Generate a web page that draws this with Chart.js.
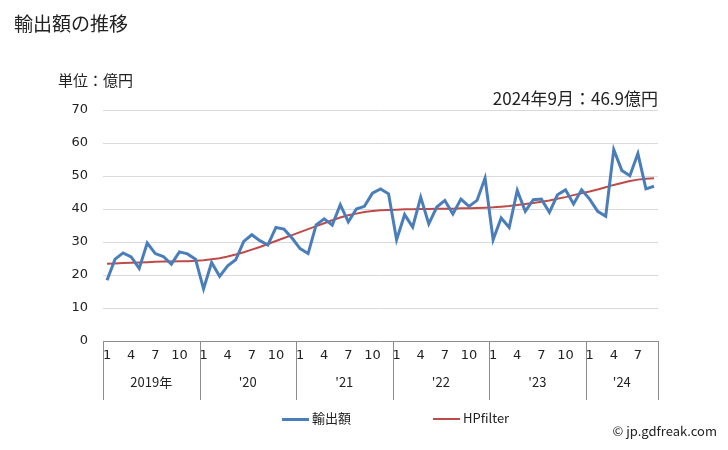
<!DOCTYPE html>
<html><head><meta charset="utf-8">
<script src="https://cdn.jsdelivr.net/npm/chart.js@4"></script>
<style>
html,body{margin:0;padding:0;background:#fff;}
#wrap{position:relative;width:728px;height:450px;font-family:"Noto Sans CJK JP","DejaVu Sans",sans-serif;color:#222;}
canvas{position:absolute;left:0;top:0;}
.t{position:absolute;white-space:nowrap;}
</style></head><body>
<div id="wrap">
<canvas id="c" width="728" height="450"></canvas>
<div class="t" style="left:14px;top:9px;font-size:19px;">輸出額の推移</div>
<div class="t" style="left:58px;top:69px;font-size:15px;">単位：億円</div>
<div class="t" style="right:70px;top:85px;font-size:17px;">2024年9月：46.9億円</div>
<div class="t" style="left:282px;top:408px;font-size:13px;"><span style="display:inline-block;width:27px;height:3px;background:#4a7ebb;vertical-align:middle;margin-right:3px;"></span>輸出額</div>
<div class="t" style="left:433px;top:408px;font-size:13px;"><span style="display:inline-block;width:27px;height:2px;background:#be4b48;vertical-align:middle;margin-right:3px;"></span>HPfilter</div>
<div class="t" style="right:11px;top:421px;font-size:13px;">© jp.gdfreak.com</div>
</div>
<script>
const months = [];
const years = [2019,2020,2021,2022,2023,2024];
const yearLabels = ["2019年","'20","'21","'22","'23","'24"];
const monthTickLabels = ["1","4","7","10"];
for (const y of years) { for (let m = 1; m <= 12; m++) { if (y === 2024 && m > 9) break; months.push(y + "-" + m); } }

const exportValues = [
  18.4, 24.8, 26.7, 25.5, 22.0, 29.7, 26.5, 25.6, 23.3, 27.0, 26.4, 24.8,
  15.8, 23.8, 19.6, 22.8, 24.6, 30.2, 32.2, 30.4, 29.1, 34.4, 33.9, 31.2,
  28.0, 26.5, 35.2, 37.0, 35.1, 41.3, 36.1, 40.0, 40.8, 44.8, 46.1, 44.6,
  30.7, 38.3, 34.5, 43.6, 35.5, 40.6, 42.6, 38.5, 43.0, 40.8, 42.6, 49.4,
  30.7, 37.3, 34.4, 45.6, 39.3, 42.8, 43.0, 39.0, 44.3, 45.8, 41.5, 45.8,
  43.0, 39.3, 37.8, 58.0, 51.7, 50.1, 56.8, 46.1, 46.9
];
const hpFilter = [
  23.4, 23.5, 23.6, 23.7, 23.8, 23.9, 24.0, 24.1, 24.1, 24.2, 24.2, 24.3,
  24.5, 24.8, 25.1, 25.6, 26.2, 26.9, 27.7, 28.5, 29.4, 30.3, 31.2, 32.1,
  33.0, 33.9, 34.8, 35.7, 36.6, 37.4, 38.1, 38.6, 39.1, 39.4, 39.6, 39.7,
  39.8, 39.9, 39.9, 40.0, 40.0, 40.1, 40.1, 40.1, 40.2, 40.2, 40.3, 40.4,
  40.5, 40.7, 40.9, 41.2, 41.5, 41.8, 42.2, 42.6, 43.1, 43.6, 44.2, 44.8,
  45.3, 45.9, 46.6, 47.3, 47.9, 48.5, 48.9, 49.2, 49.3
];
const yTicks = [0,10,20,30,40,50,60,70];

const boxPlugin = {
  id: 'box',
  afterDraw(chart) {
    const ctx = chart.ctx, x = chart.scales.x, area = chart.chartArea;
    const w = (area.right - area.left) / months.length;
    ctx.save();
    ctx.strokeStyle = '#8c8c8c';
    ctx.lineWidth = 1;
    ctx.beginPath();
    ctx.moveTo(area.left, Math.round(area.bottom) + 0.5);
    ctx.lineTo(area.right, Math.round(area.bottom) + 0.5);
    const bounds = [];
    let idx = 0;
    years.forEach((y) => {
      bounds.push(x.getPixelForValue(idx) - w / 2);
      idx += (y === 2024 ? 9 : 12);
    });
    bounds.push(area.right);
    bounds.forEach(b => {
      const px = Math.round(b) + 0.5;
      ctx.moveTo(px, area.bottom);
      ctx.lineTo(px, 400);
    });
    ctx.stroke();
    ctx.fillStyle = '#222';
    ctx.font = '13px "Noto Sans CJK JP", "DejaVu Sans", sans-serif';
    ctx.textAlign = 'center';
    ctx.textBaseline = 'middle';
    yearLabels.forEach((lab, i) => {
      ctx.fillText(lab, (bounds[i] + bounds[i + 1]) / 2, 382);
    });
    ctx.restore();
  }
};

new Chart(document.getElementById('c'), {
  type: 'line',
  data: {
    labels: months,
    datasets: [
      { label: '輸出額', data: exportValues, borderColor: '#4a7ebb', borderWidth: 3, pointRadius: 0, tension: 0 },
      { label: 'HPfilter', data: hpFilter, borderColor: '#be4b48', borderWidth: 2, pointRadius: 0, tension: 0 }
    ]
  },
  options: {
    responsive: false,
    animation: false,
    events: [],
    layout: { padding: { left: 0, right: 70, top: 110, bottom: 0 } },
    plugins: { legend: { display: false }, tooltip: { enabled: false } },
    scales: {
      x: {
        type: 'category',
        offset: true,
        grid: { display: false, drawTicks: false },
        border: { display: false },
        afterFit(s) { s.height = 109; },
        ticks: {
          autoSkip: false, maxRotation: 0, padding: 7,
          color: '#222',
          font: { family: '"DejaVu Sans", sans-serif', size: 13 },
          callback(v, i) { const m = (i < 60 ? i % 12 : i - 60) + 1; return monthTickLabels.includes(String(m)) ? String(m) : ''; }
        }
      },
      y: {
        min: 0, max: 70,
        afterFit(s) { s.width = 103; },
        afterBuildTicks(s) { s.ticks = yTicks.map(v => ({ value: v })); },
        grid: { color: '#d9d9d9', drawTicks: false },
        border: { display: false },
        ticks: { padding: 15, color: '#222', font: { family: '"DejaVu Sans", sans-serif', size: 13 } }
      }
    }
  },
  plugins: [boxPlugin]
});
</script>
</body></html>
